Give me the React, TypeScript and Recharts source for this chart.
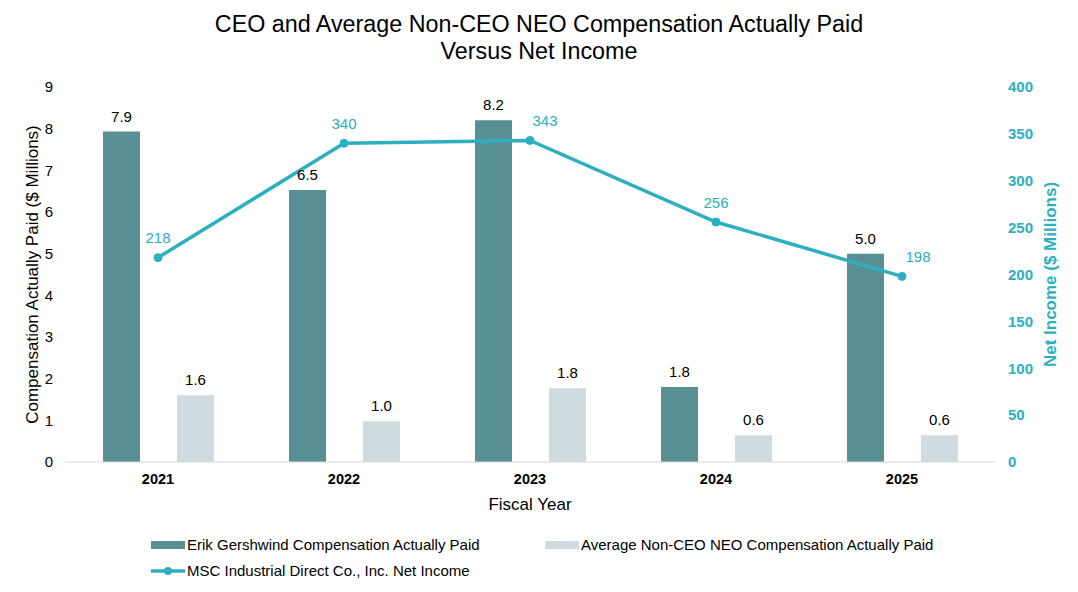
import React from "react";
import { ComposedChart, Bar, Line, XAxis, YAxis, LabelList } from "recharts";

const years = ["2021", "2022", "2023", "2024", "2025"];
const ceoPay = [7.93, 6.53, 8.2, 1.8, 5.0];
const neoPay = [1.6, 0.98, 1.77, 0.64, 0.64];
const netIncome = [218, 340, 343, 256, 198];
const leftTicks = [0, 1, 2, 3, 4, 5, 6, 7, 8, 9];
const rightTicks = [0, 50, 100, 150, 200, 250, 300, 350, 400];
// nudge a couple of line labels sideways so they don't sit on the bar labels
const lineLabelShift = [0, 0, 15, 0, 16];

const DARK = "#578F95";
const LIGHT = "#CFDBDF";
const TEAL = "#2CB0C0";
const FONT = "'Liberation Sans', Arial, sans-serif";

const data = years.map((year, i) => ({
  year,
  ceo: ceoPay[i],
  neo: neoPay[i],
  income: netIncome[i],
}));

const LineLabel = (props: any) => {
  const { x, y, value, index } = props;
  return (
    <text
      x={x + lineLabelShift[index]}
      y={y - 20}
      textAnchor="middle"
      dominantBaseline="central"
      fill={TEAL}
      fontSize={15}
      fontFamily={FONT}
    >
      {value}
    </text>
  );
};

export default function App() {
  return (
    <div style={{ position: "absolute", left: 0, top: 0, width: 1078, height: 592, background: "#fff", fontFamily: FONT }}>
      <div style={{ position: "absolute", top: 11, left: 0, width: 1078, textAlign: "center", fontSize: 23.3, lineHeight: "27px", color: "#000" }}>
        CEO and Average Non-CEO NEO Compensation Actually Paid
        <br />
        Versus Net Income
      </div>

      <ComposedChart
        width={1078}
        height={592}
        data={data}
        margin={{ top: 87, right: 0, left: 0, bottom: 80 }}
        barGap={37}
      >
        <XAxis
          dataKey="year"
          axisLine={{ stroke: "#D9D9D9" }}
          tickLine={false}
          height={50}
          tick={{ fontSize: 14.5, fontWeight: "bold", fill: "#000", fontFamily: FONT }}
          tickMargin={6}
          label={{ value: "Fiscal Year", position: "insideBottom", offset: 2, fontSize: 17, fill: "#000", fontFamily: FONT }}
        />
        <YAxis
          yAxisId="left"
          domain={[0, 9]}
          ticks={leftTicks}
          width={65}
          axisLine={false}
          tickLine={false}
          tickMargin={6}
          tick={{ fontSize: 15, fill: "#000", fontFamily: FONT }}
          label={{
            value: "Compensation Actually Paid ($ Millions)",
            angle: -90,
            position: "insideLeft",
            offset: 32,
            style: { textAnchor: "middle", fontSize: 17, fill: "#000", fontFamily: FONT },
          }}
        />
        <YAxis
          yAxisId="right"
          orientation="right"
          domain={[0, 400]}
          ticks={rightTicks}
          width={83}
          axisLine={false}
          tickLine={false}
          tickMargin={7}
          tick={{ fontSize: 15, fontWeight: "bold", fill: TEAL, fontFamily: FONT }}
          label={{
            value: "Net Income ($ Millions)",
            angle: -90,
            position: "insideRight",
            offset: 28,
            style: { textAnchor: "middle", fontSize: 17, fontWeight: "bold", fill: TEAL, fontFamily: FONT },
          }}
        />
        <Bar yAxisId="left" dataKey="ceo" fill={DARK} barSize={37} isAnimationActive={false}>
          <LabelList
            dataKey="ceo"
            position="top"
            offset={10}
            formatter={(v: any) => Number(v).toFixed(1)}
            style={{ fontSize: 15, fill: "#000", fontFamily: FONT }}
          />
        </Bar>
        <Bar yAxisId="left" dataKey="neo" fill={LIGHT} barSize={37} isAnimationActive={false}>
          <LabelList
            dataKey="neo"
            position="top"
            offset={10}
            formatter={(v: any) => Number(v).toFixed(1)}
            style={{ fontSize: 15, fill: "#000", fontFamily: FONT }}
          />
        </Bar>
        <Line
          yAxisId="right"
          dataKey="income"
          stroke={TEAL}
          strokeWidth={3.5}
          dot={{ r: 4, fill: TEAL, stroke: TEAL, strokeWidth: 1 }}
          isAnimationActive={false}
        >
          <LabelList dataKey="income" content={LineLabel} />
        </Line>
      </ComposedChart>

      <div style={{ position: "absolute", left: 151, top: 536, fontSize: 15, color: "#000", lineHeight: "18px" }}>
        <div style={{ display: "flex", alignItems: "center", height: 18 }}>
          <span style={{ display: "inline-block", width: 34, height: 8, background: DARK, marginRight: 2 }} />
          <span style={{ width: 358 }}>Erik Gershwind Compensation Actually Paid</span>
          <span style={{ display: "inline-block", width: 34, height: 8, background: LIGHT, marginRight: 2 }} />
          <span>Average Non-CEO NEO Compensation Actually Paid</span>
        </div>
        <div style={{ display: "flex", alignItems: "center", height: 18, marginTop: 8 }}>
          <svg width={34} height={10} style={{ marginRight: 2 }}>
            <line x1={0} y1={5} x2={34} y2={5} stroke={TEAL} strokeWidth={3.5} />
            <circle cx={17} cy={5} r={4} fill={TEAL} />
          </svg>
          <span>MSC Industrial Direct Co., Inc. Net Income</span>
        </div>
      </div>
    </div>
  );
}
